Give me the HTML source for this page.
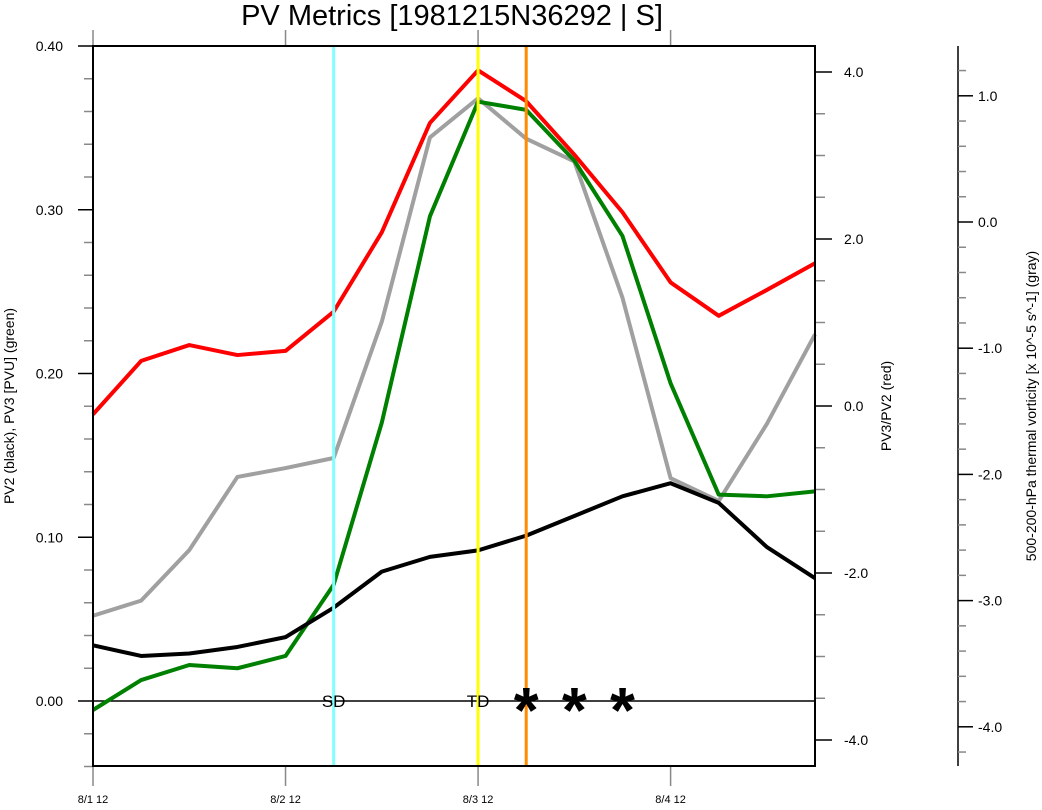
<!DOCTYPE html>
<html><head><meta charset="utf-8"><style>
body{margin:0;background:#fff;}
svg text{font-family:"Liberation Sans",sans-serif;}
</style></head><body>
<svg id="chart" width="1042" height="805" xmlns="http://www.w3.org/2000/svg"></svg>
<script>
const categories = ["8/1 12","8/1 18","8/2 00","8/2 06","8/2 12","8/2 18","8/3 00","8/3 06","8/3 12","8/3 18","8/4 00","8/4 06","8/4 12","8/4 18","8/5 00","8/5 06"];
const xTickLabels = ["8/1 12","8/2 12","8/3 12","8/4 12"];
const redValues = [-0.10,0.54,0.73,0.61,0.66,1.13,2.08,3.39,4.02,3.65,3.01,2.32,1.48,1.08,1.39,1.71];
const greenValues = [-0.0055,0.0128,0.022,0.020,0.0275,0.071,0.170,0.296,0.366,0.361,0.330,0.284,0.194,0.126,0.125,0.128];
const blackValues = [0.034,0.0275,0.029,0.033,0.039,0.057,0.079,0.088,0.092,0.101,0.113,0.125,0.133,0.121,0.094,0.075];
const grayValues = [-3.12,-3.0,-2.60,-2.02,-1.95,-1.87,-0.79,0.67,0.98,0.66,0.48,-0.60,-2.03,-2.21,-1.60,-0.89];
const leftTicks = ["0.00","0.10","0.20","0.30","0.40"];
const redTicks = ["-4.0","-2.0","0.0","2.0","4.0"];
const grayTicks = ["-4.0","-3.0","-2.0","-1.0","0.0","1.0"];
const markers = [{i:5,label:"SD",color:"#80ffff"},{i:8,label:"TD",color:"#ffff00"},{i:9,label:"",color:"#ff8c00"}];
const starIdx = [9,10,11];

const svg=document.getElementById('chart');
const NS="http://www.w3.org/2000/svg";
const L=93,R=815,T=46,B=766;
const x=i=>L+i*(R-L)/15;
const yL=v=>701-v*1637.5;
const yR=v=>406-v*83.5;
const yG=v=>222-v*126.2;
function el(tag,attrs,name,parent){const e=document.createElementNS(NS,tag);for(const k in attrs)e.setAttribute(k,attrs[k]);


(parent||svg).appendChild(e);return e;}
function line(x1,y1,x2,y2,stroke,w,name){return el('line',{x1,y1,x2,y2,stroke,'stroke-width':w},name);}
function text(tx,ty,s,attrs,name){const t=el('text',Object.assign({x:tx,y:ty,'font-size':14,fill:'#000'},attrs),name);t.textContent=s;return t;}

text(452,25,"PV Metrics [1981215N36292 | S]",{'font-size':29,'text-anchor':'middle'},'chart-title');

for(let k=-2;k<=20;k++){const v=k*0.02,yy=yL(v);if(yy<T-0.5||yy>B+0.5)continue;const major=k%5===0;
line(major?78:84,yy,L,yy,major?'#000':'#888',1.5,'left-tick');}
leftTicks.forEach(s=>text(63,yL(parseFloat(s))+5,s,{'text-anchor':'end'},'left-tick-label'));
for(let k=-8;k<=9;k++){const v=k*0.5,yy=yR(v);if(yy<T||yy>B)continue;const major=k%4===0;
line(R,yy,major?832:825,yy,major?'#000':'#888',1.5,'red-axis-tick');}
redTicks.forEach(s=>text(844,yR(parseFloat(s))+5,s,{},'red-tick-label'));
line(958,T,958,B,'#000',1.5,'gray-axis-line');
for(let k=-23;k<=14;k++){const v=k*0.2,yy=yG(v);if(yy<T-0.5||yy>B+0.5)continue;const major=k%5===0;
line(958,yy,major?973:966,yy,major?'#000':'#888',1.5,'gray-axis-tick');}
grayTicks.forEach(s=>text(978,yG(parseFloat(s))+5,s,{},'gray-tick-label'));
xTickLabels.forEach((s,j)=>{const xx=x(j*4);
line(xx,B,xx,786,'#888',1.5,'x-tick');line(xx,T,xx,30,'#888',1.5,'top-tick');
text(xx,803,s,{'font-size':11,'text-anchor':'middle'},'x-tick-label');});

text(0,0,"PV2 (black), PV3 [PVU] (green)",{'text-anchor':'middle',transform:'translate(14,406) rotate(-90)'},'left-axis-title');
text(0,0,"PV3/PV2 (red)",{'text-anchor':'middle',transform:'translate(891,406) rotate(-90)'},'red-axis-title');
text(0,0,"500-200-hPa thermal vorticity [x 10^-5 s^-1] (gray)",{'text-anchor':'middle',transform:'translate(1036,406) rotate(-90)'},'gray-axis-title');

line(L,yL(0),R,yL(0),'#000',1.5,'zero-line');

function series(vals,fy,color,name){el('polyline',{points:vals.map((v,i)=>x(i)+','+fy(v)).join(' '),fill:'none',stroke:color,'stroke-width':4,'stroke-linejoin':'round'},name);}
series(grayValues,yG,'#a0a0a0','gray-thermal-vorticity-line');
series(redValues,yR,'#ff0000','red-pv-ratio-line');
series(greenValues,yL,'#008000','green-pv3-line');
series(blackValues,yL,'#000000','black-pv2-line');

markers.forEach(m=>{line(x(m.i),T,x(m.i),B,m.color,3,'marker-line-'+(m.label||'orange').toLowerCase());
if(m.label)text(x(m.i),yL(0)+6,m.label,{'font-size':17,'text-anchor':'middle'},'marker-label');});
starIdx.forEach(i=>text(x(i),yL(0)+31,"*",{'font-size':64,'font-weight':'bold','text-anchor':'middle'},'star-marker'));

el('rect',{x:L,y:T,width:R-L,height:B-T,fill:'none',stroke:'#000','stroke-width':2},'plot-frame');
</script>
</body></html>
